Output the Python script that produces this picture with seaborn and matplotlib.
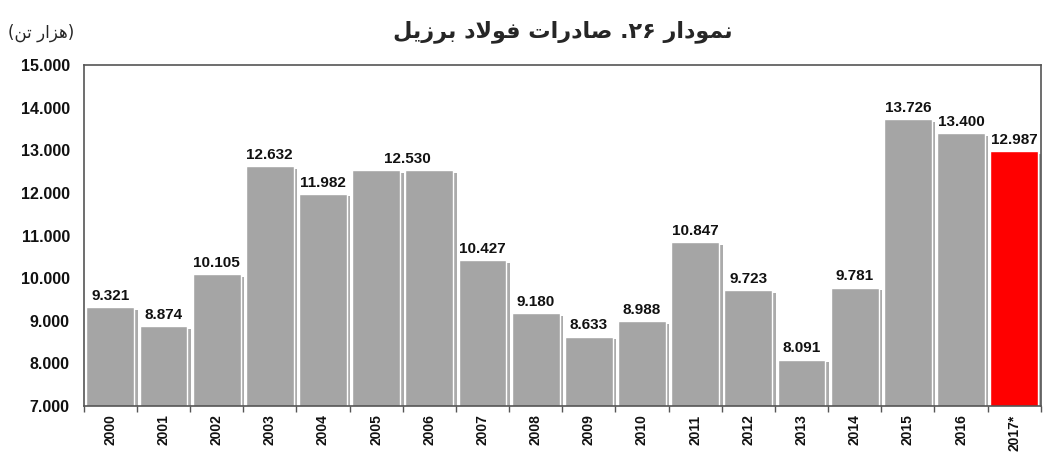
import numpy as np
import pandas as pd
import matplotlib
matplotlib.use("Agg")
import matplotlib.pyplot as plt
import matplotlib.patheffects as pe
from matplotlib.ticker import FuncFormatter, FixedLocator
import seaborn as sns

# data (thousand tonnes)
years = ["2000", "2001", "2002", "2003", "2004", "2005", "2006", "2007", "2008",
         "2009", "2010", "2011", "2012", "2013", "2014", "2015", "2016", "2017*"]
exports = [9321, 8874, 10105, 12632, 11982, 12530, 12530, 10427, 9180,
           8633, 8988, 10847, 9723, 8091, 9781, 13726, 13400, 12987]
# 2005 value label is not printed in the source, 2006 label sits between the two bars
shown_labels = ["9.321", "8.874", "10.105", "12.632", "11.982", "", "", "10.427", "9.180",
                "8.633", "8.988", "10.847", "9.723", "8.091", "9.781", "13.726", "13.400", "12.987"]

# Persian text, pre-shaped (presentation forms, visual order) since matplotlib has no RTL shaping
title_txt = ("\uFEDE\uFBFE\uFEAF\uFEAE\uFE91 \uFEA9\uFEFB\uFEEE\uFED3 "
             "\uFE95\uFE8D\uFEAD\uFEA9\uFE8E\uFEBB .\u06F2\u06F6 "
             "\uFEAD\uFE8D\uFEA9\uFEEE\uFEE4\uFEE7")
unit_txt = "(\uFEE6\uFE97 \uFEAD\uFE8D\uFEB0\uFEEB)"

df = pd.DataFrame({"year": years, "value": exports})
colors = {y: "#a5a5a5" for y in years}
colors["2017*"] = "#ff0000"

sns.set_style("white")
plt.rcParams["font.family"] = ["Liberation Sans", "DejaVu Sans"]

fig = plt.figure(figsize=(10.46, 4.61), dpi=100)
ax = fig.add_axes([0.080, 0.119, 0.915, 0.740])

sns.barplot(data=df, x="year", y="value", hue="year", palette=colors,
            legend=False, width=0.9, saturation=1, ax=ax)

for c in ax.containers:
    for p in c:
        p.set_path_effects([pe.SimplePatchShadow(offset=(2.5, -2), shadow_rgbFace="#666666", alpha=0.55),
                            pe.Normal()])

ax.set_ylim(7000, 15000)
ax.yaxis.set_major_locator(FixedLocator(np.arange(7000, 15001, 1000)))
ax.yaxis.set_major_formatter(FuncFormatter(lambda v, p: f"{int(v):,}".replace(",", ".")))

# value labels
bars = sorted([p for c in ax.containers for p in c], key=lambda b: b.get_x())
for i, b in enumerate(bars):
    if shown_labels[i]:
        ax.annotate(shown_labels[i], (b.get_x() + b.get_width() / 2, exports[i]),
                    xytext=(0, 3), textcoords="offset points", ha="center", va="bottom",
                    fontsize=11, fontweight="bold", color="#111111")
ax.annotate("12.530", (6, exports[6]), xytext=(-16, 3), textcoords="offset points",
            ha="center", va="bottom", fontsize=11, fontweight="bold", color="#111111")

ax.set_xlabel("")
ax.set_ylabel("")
ax.set_xlim(-0.5, len(years) - 0.5)
ax.tick_params(axis="x", which="major", length=0, pad=6)
ax.set_xticks(np.arange(-0.5, len(years), 1), minor=True)
ax.tick_params(axis="x", which="minor", length=4, color="#555555", direction="out", width=1)
ax.tick_params(axis="y", length=5, color="#555555", direction="out", width=1, pad=5)
ax.tick_params(axis="x", which="both", bottom=True)
plt.setp(ax.get_xticklabels(), rotation=90, fontsize=10, fontweight="bold", color="#111111")
plt.setp(ax.get_yticklabels(), fontsize=11.5, fontweight="bold", color="#111111")

for s in ax.spines.values():
    s.set_color("#555555")
    s.set_linewidth(1.2)
    s.set_visible(True)

fig.text(0.538, 0.932, title_txt, ha="center", va="center", fontsize=16,
         fontweight="bold", family=["DejaVu Sans"])
fig.text(0.008, 0.928, unit_txt, ha="left", va="center", fontsize=12,
         family=["DejaVu Sans"])

fig.savefig("out.png", dpi=100)
